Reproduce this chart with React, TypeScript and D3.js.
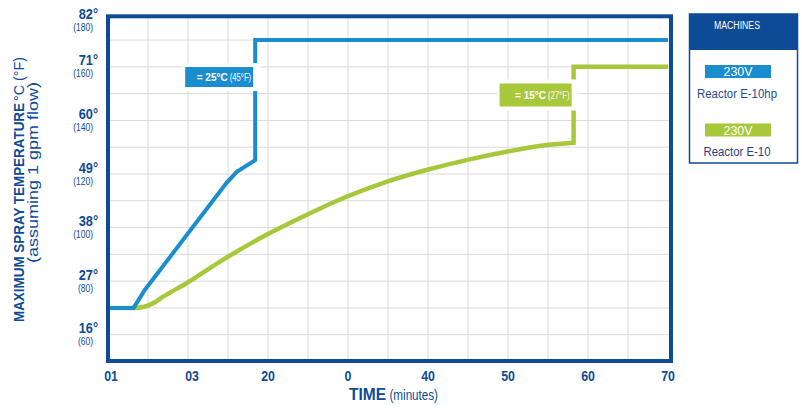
import React from "react";
import * as d3 from "d3";

const minuteTicks = [0, 10, 20, 30, 40, 50, 60, 70];
const minuteTickLabels = ["01", "03", "20", "0", "40", "50", "60", "70"];
const gridMinutes = [5, 10, 15, 20, 25, 30, 35, 40, 45, 50, 55, 60, 65];
const tempTicksF = [60, 80, 100, 120, 140, 160, 180];
const tempTickLabelsC = ["16°", "27°", "38°", "49°", "60°", "71°", "82°"];
const gridTempsF = [60, 70, 80, 90, 100, 110, 120, 130, 140, 150, 160, 170];

const e10hpMinutes = [0, 3.2, 4.6, 14.8, 16.1, 18.4, 18.4, 70];
const e10hpTempF = [70, 70, 76.7, 116.6, 120.8, 125.2, 170, 170];

const e10CurveMinutes = [0, 3.4, 5.6, 6.9, 9.8, 14, 19, 24.8, 29.8, 34.8, 39.8, 44.8, 49.8, 54.8, 58.2];
const e10CurveTempF = [70, 70, 71.7, 74.2, 79.2, 87.3, 96, 104.7, 111.5, 117.1, 121.5, 125.2, 128.3, 130.8, 131.7];
const e10StepMinutes = [58.2, 58.2, 70];
const e10StepTempF = [131.7, 160, 160];

const annoBold = ["= 25°C", "= 15°C"];
const annoNormal = ["(45°F)", "(27°F)"];
const annoMinute = [18.4, 58.2];
const annoCenterF = [156.2, 149.5];

const legendNames = ["Reactor E-10hp", "Reactor E-10"];
const legendVoltage = ["230V", "230V"];

const DARK = "#0d4b96";
const BLUE = "#1a8dcf";
const GREEN = "#a8c83b";
const GRID = "#dadada";
const FONT = "'Liberation Sans', Arial, sans-serif";

export default function App() {
  const x = d3.scaleLinear().domain([0, 70]).range([108, 668]);
  const y = d3.scaleLinear().domain([50, 180]).range([361.5, 13.3]);

  const line = d3
    .line<[number, number]>()
    .x((d) => x(d[0]))
    .y((d) => y(d[1]));

  const hpPts: [number, number][] = e10hpMinutes.map((m, i) => [m, e10hpTempF[i]]);
  const hpPath = line(hpPts) || "";

  const curvePts: [number, number][] = e10CurveMinutes.map((m, i) => [m, e10CurveTempF[i]]);
  const stepPts: [number, number][] = e10StepMinutes.map((m, i) => [m, e10StepTempF[i]]);
  const curvePath =
    d3
      .line<[number, number]>()
      .x((d) => x(d[0]))
      .y((d) => y(d[1]))
      .curve(d3.curveMonotoneX)(curvePts) || "";
  const stepPath = (line(stepPts) || "").replace(/^M/, "L");
  const e10Path = curvePath + stepPath;

  const frameLeft = x(0);
  const frameRight = x(70) + 3;
  const frameTop = 16.3;
  const frameBottom = y(50) - 0.5;

  const annoColors = [BLUE, GREEN];
  const annoW = [68, 72];
  const annoH = [20, 23];

  return (
    <svg
      width={802}
      height={417}
      style={{ position: "absolute", left: 0, top: 0, background: "#fff" }}
      fontFamily={FONT}
    >
      {/* grid */}
      <g stroke={GRID} strokeWidth={1}>
        {gridMinutes.map((m) => (
          <line key={"gx" + m} x1={x(m)} x2={x(m)} y1={frameTop} y2={frameBottom} />
        ))}
        {gridTempsF.map((f) => (
          <line key={"gy" + f} x1={frameLeft} x2={frameRight} y1={y(f)} y2={y(f)} />
        ))}
      </g>

      {/* series */}
      <path d={e10Path} fill="none" stroke={GREEN} strokeWidth={4.5} strokeLinejoin="miter" />
      <path d={hpPath} fill="none" stroke={BLUE} strokeWidth={4} strokeLinejoin="miter" />

      {/* annotations */}
      {annoBold.map((b, i) => {
        const right = x(annoMinute[i]) - 2;
        const cy = y(annoCenterF[i]);
        const w = annoW[i];
        const h = annoH[i];
        return (
          <g key={"anno" + i}>
            <rect x={right - w - 2} y={cy - h / 2 - 4} width={w + 9} height={h + 8} fill="#fff" />
            <rect x={right - w} y={cy - h / 2} width={w} height={h} fill={annoColors[i]} />
            <text
              x={right - 25.5}
              y={cy + 4}
              textAnchor="end"
              fill="#fff"
              fontSize={11.5}
              fontWeight="bold"
              textLength={31}
              lengthAdjust="spacingAndGlyphs"
            >
              {b}
            </text>
            <text
              x={right - 2}
              y={cy + 4}
              textAnchor="end"
              fill="#fff"
              fontSize={10}
              textLength={21.5}
              lengthAdjust="spacingAndGlyphs"
            >
              {annoNormal[i]}
            </text>
          </g>
        );
      })}

      {/* frame */}
      <rect
        x={frameLeft}
        y={frameTop}
        width={frameRight - frameLeft}
        height={frameBottom - frameTop}
        fill="none"
        stroke={DARK}
        strokeWidth={4}
      />

      {/* y ticks */}
      {tempTicksF.map((f, i) => {
        const c = Math.max(y(f), 20.5);
        return (
          <g key={"yt" + f} fill={DARK}>
            <text
              transform={`translate(98,${c - 1.5}) scale(0.85,1)`}
              textAnchor="end"
              fontSize={15}
              fontWeight="bold"
            >
              {tempTickLabelsC[i]}
            </text>
            <text
              transform={`translate(93,${c + 10.5}) scale(0.85,1)`}
              textAnchor="end"
              fontSize={10}
            >
              {"(" + f + ")"}
            </text>
          </g>
        );
      })}

      {/* x ticks */}
      {minuteTicks.map((m, i) => (
        <text
          key={"xt" + m}
          transform={`translate(${x(m) + (i === 0 ? 3 : i === 1 ? 4 : 0)},381) scale(0.85,1)`}
          textAnchor="middle"
          fontSize={14.5}
          fontWeight="bold"
          fill={DARK}
        >
          {minuteTickLabels[i]}
        </text>
      ))}

      {/* x title */}
      <text
        x={349}
        y={400}
        fontSize={17}
        fontWeight="bold"
        fill={DARK}
        textLength={37}
        lengthAdjust="spacingAndGlyphs"
      >
        TIME
      </text>
      <text
        x={389.5}
        y={400}
        fontSize={15.5}
        fill={DARK}
        textLength={48.5}
        lengthAdjust="spacingAndGlyphs"
      >
        (minutes)
      </text>

      {/* y title */}
      <text
        transform="translate(23.5,322) rotate(-90)"
        fontSize={15.5}
        fontWeight="bold"
        fill={DARK}
        textLength={219}
        lengthAdjust="spacingAndGlyphs"
      >
        MAXIMUM SPRAY TEMPERATURE
      </text>
      <text
        transform="translate(23.5,101) rotate(-90)"
        fontSize={15}
        fill={DARK}
        textLength={44}
        lengthAdjust="spacingAndGlyphs"
      >
        °C (°F)
      </text>
      <text
        transform="translate(37.5,172.5) rotate(-90)"
        textAnchor="middle"
        fontSize={14}
        fill={DARK}
        textLength={181}
        lengthAdjust="spacingAndGlyphs"
      >
        (assuming 1 gpm flow)
      </text>

      {/* legend */}
      <g>
        <rect x={689.5} y={14} width={108} height={149} fill="#fff" stroke={DARK} strokeWidth={1.5} />
        <rect x={689.5} y={14} width={108} height={36} fill={DARK} />
        <text
          x={737}
          y={28.5}
          textAnchor="middle"
          fontSize={10}
          fill="#fff"
          textLength={46}
          lengthAdjust="spacingAndGlyphs"
        >
          MACHINES
        </text>
        {legendNames.map((n, i) => {
          const top = i === 0 ? 65 : 123.5;
          const col = i === 0 ? BLUE : GREEN;
          return (
            <g key={"lg" + i}>
              <rect x={705} y={top} width={66} height={13} fill={col} />
              <text
                x={738}
                y={top + 11}
                textAnchor="middle"
                fontSize={12.5}
                fill="#fff"
                textLength={29}
                lengthAdjust="spacingAndGlyphs"
              >
                {legendVoltage[i]}
              </text>
              <text
                x={737}
                y={top + 32.5}
                textAnchor="middle"
                fontSize={13.5}
                fill={i === 0 ? "#1e4d8c" : "#2b3d7d"}
                textLength={i === 0 ? 80 : 67}
                lengthAdjust="spacingAndGlyphs"
              >
                {n}
              </text>
            </g>
          );
        })}
      </g>
    </svg>
  );
}
